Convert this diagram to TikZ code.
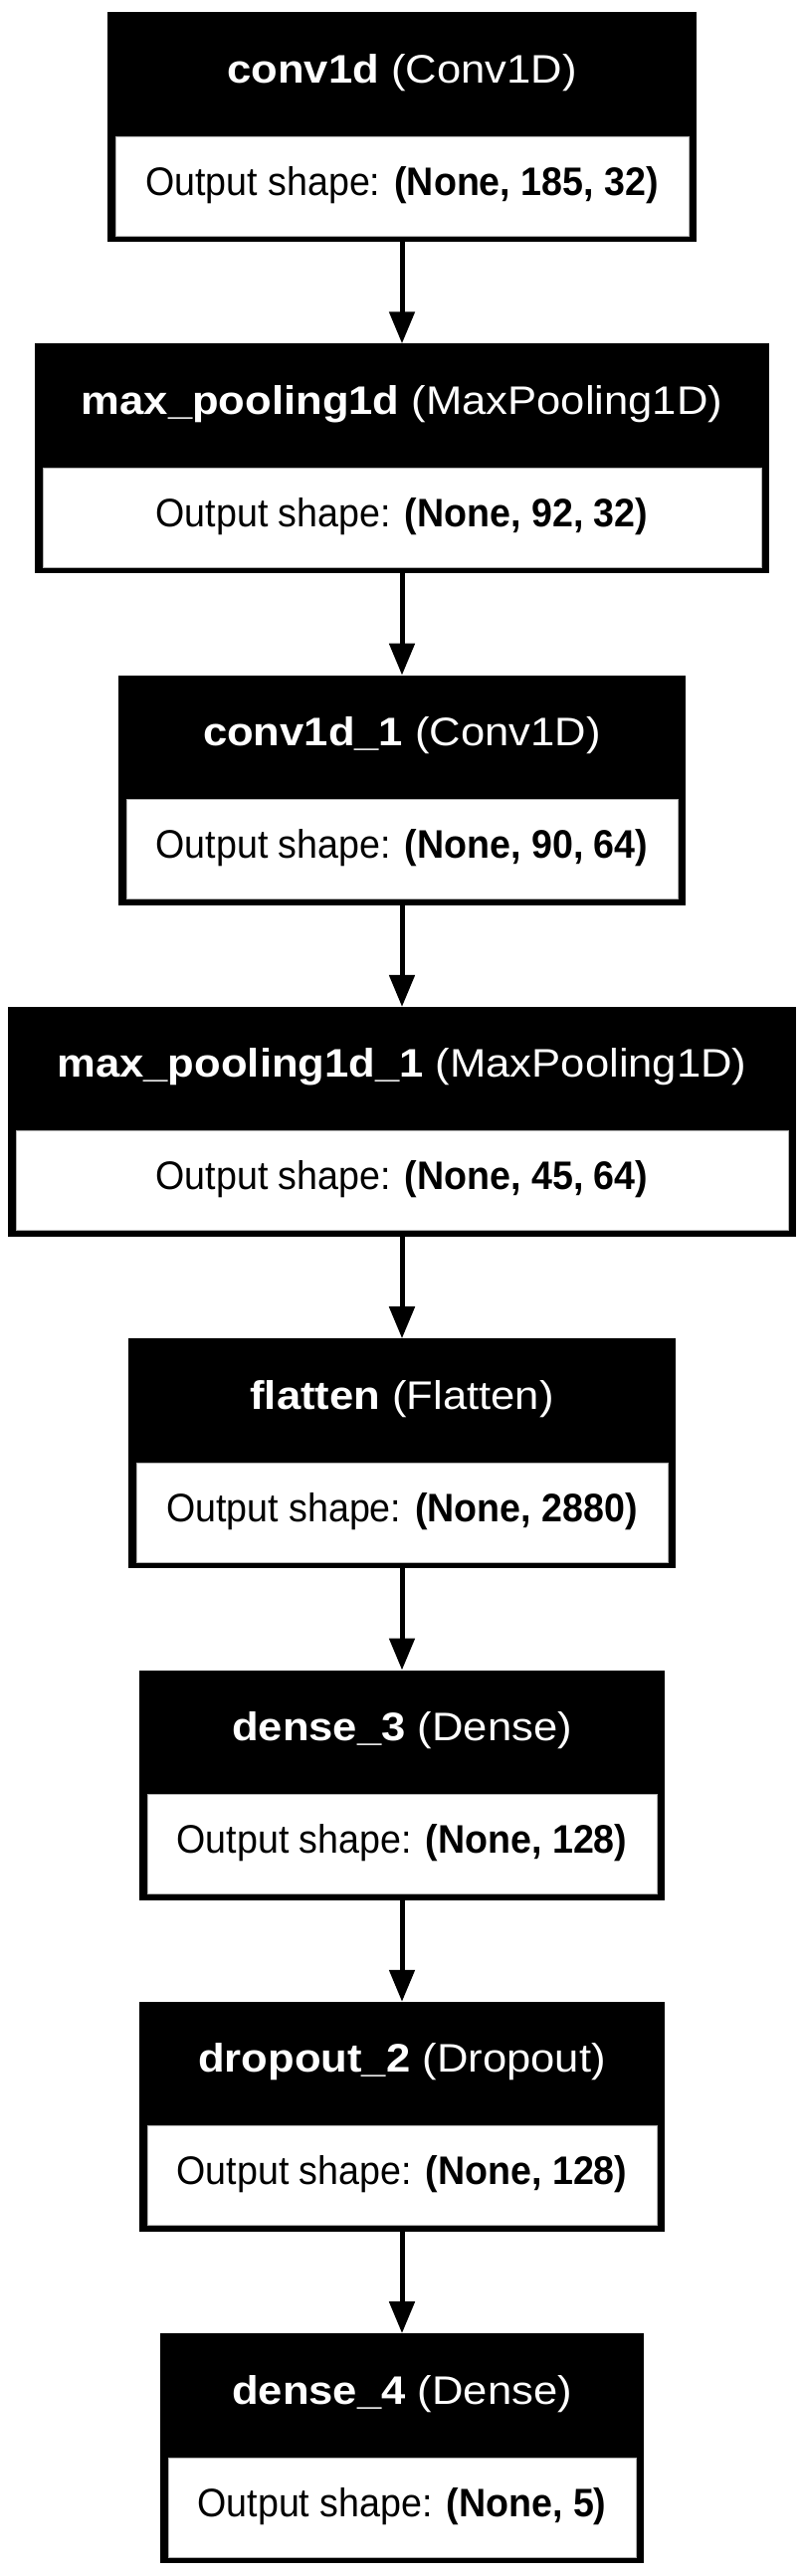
\documentclass[tikz,border=0pt]{standalone}
\usepackage{fontspec}
\setmainfont{Liberation Sans}
\newfontfamily\hdfont[FakeStretch=1.09]{Liberation Sans}
\newfontfamily\osfont[FakeStretch=0.94]{Liberation Sans}
\usetikzlibrary{arrows.meta}
\tikzset{
  layer/.style={fill=black, inner sep=0pt, outer sep=0pt, minimum height=231pt, anchor=north},
  shapebox/.style={fill=white, draw=gray!60, line width=1pt, inner sep=0pt, outer sep=0pt, minimum height=100pt, anchor=north},
  hdtext/.style={text=white, anchor=base, inner sep=0pt, font=\hdfont\fontsize{40}{44}\selectfont},
  ostext/.style={text=black, anchor=base, inner sep=0pt, font=\osfont\fontsize{40}{44}\selectfont},
  flow/.style={line width=5pt, draw=black, -{Triangle[length=32pt,width=25pt]}}
}
\begin{document}
\begin{tikzpicture}[x=1pt,y=-1pt]
\fill[white] (0,0) rectangle (808,2589);
\useasboundingbox (0,0) rectangle (808,2589);
\foreach \i/\w/\nm/\ty/\sh in {
  1/592/{conv1d}/{(Conv1D)}/{(None, 185, 32)},
  2/738/{max\_pooling1d}/{(MaxPooling1D)}/{(None, 92, 32)},
  3/570/{conv1d\_1}/{(Conv1D)}/{(None, 90, 64)},
  4/792/{max\_pooling1d\_1}/{(MaxPooling1D)}/{(None, 45, 64)},
  5/550/{flatten}/{(Flatten)}/{(None, 2880)},
  6/528/{dense\_3}/{(Dense)}/{(None, 128)},
  7/528/{dropout\_2}/{(Dropout)}/{(None, 128)},
  8/486/{dense\_4}/{(Dense)}/{(None, 5)}}{
  \pgfmathsetmacro\top{12+333.3*(\i-1)}
  \pgfmathsetmacro\wi{\w-16}
  \node[layer, minimum width=\w pt] (l\i) at (404,\top) {};
  \node[shapebox, minimum width=\wi pt] (s\i) at (404,\top+125) {};
  \node[hdtext] (h\i) at (404,\top+71) {\textbf{\nm} \ty};
  \node[ostext] (o\i) at (404,\top+184) {Output shape: \textbf{\sh}};
}
\foreach \a/\b in {1/2,2/3,3/4,4/5,5/6,6/7,7/8}{
  \draw[flow] (l\a.south) -- (l\b.north);
}
\end{tikzpicture}
\end{document}
